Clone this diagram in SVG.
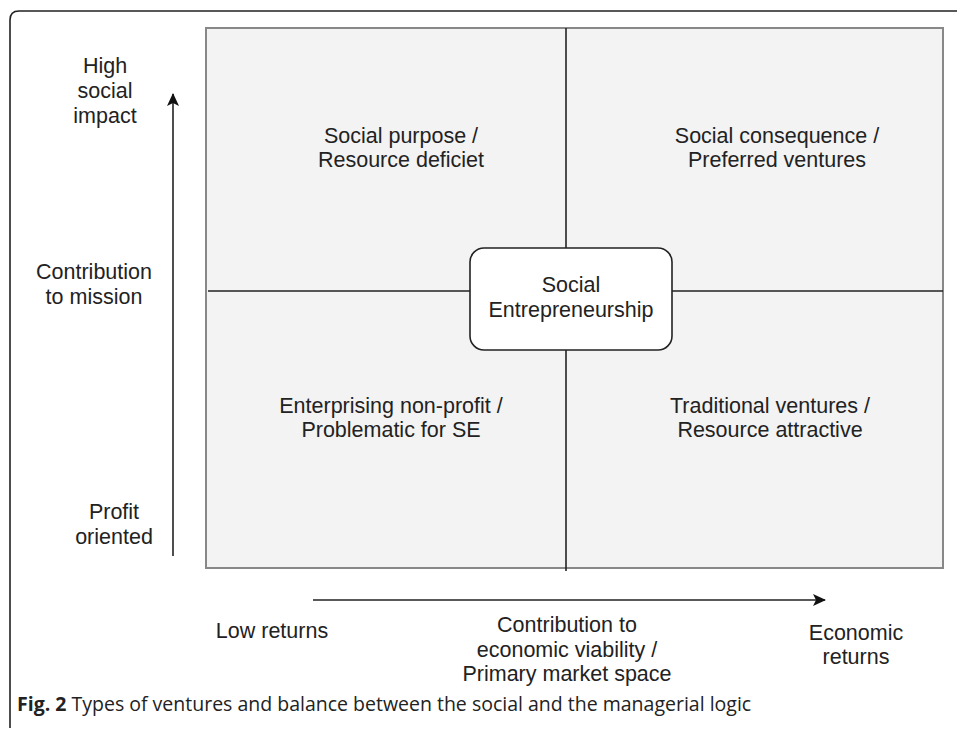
<svg xmlns="http://www.w3.org/2000/svg" width="957" height="730" viewBox="0 0 957 730">
<style>
.t{font-family:"Liberation Sans",Arial,sans-serif;font-size:21.5px;fill:#222;text-anchor:middle}
.ln{stroke:#222;stroke-width:1.6;fill:none}
.cap{font-family:"Open Sans","Noto Sans",sans-serif;font-size:19.5px;fill:#222}
</style>
<defs>
<marker id="ah" markerWidth="14" markerHeight="12" refX="12" refY="6" orient="auto" markerUnits="userSpaceOnUse">
<path d="M0,0 L13,6 L0,12 L3,6 Z" fill="#111"/>
</marker>
</defs>
<rect width="957" height="730" fill="#fff"/>
<path d="M10,728 L10,20 Q10,11 19,11 L957,11" fill="none" stroke="#222" stroke-width="1.6"/>
<g id="quadrant">
<rect x="206" y="28" width="737" height="540" fill="#f3f3f3" stroke="#888" stroke-width="2"/>
</g>
<g id="connectors">
<line class="ln" x1="566" y1="28" x2="566" y2="571"/>
<line class="ln" x1="208" y1="291" x2="943" y2="291"/>
<line class="ln" x1="173" y1="556" x2="173" y2="94" marker-end="url(#ah)"/>
<line class="ln" x1="313" y1="600" x2="825" y2="600" marker-end="url(#ah)"/>
</g>
<g id="center">
<rect x="470" y="248" width="202" height="102" rx="14" fill="#fff" stroke="#222" stroke-width="1.6"/>
<text class="t" x="571" y="292">Social</text>
<text class="t" x="571" y="317">Entrepreneurship</text>
</g>
<g id="q1"><text class="t" x="401" y="143">Social purpose /</text><text class="t" x="401" y="167">Resource deficiet</text></g>
<g id="q2"><text class="t" x="777" y="143">Social consequence /</text><text class="t" x="777" y="167">Preferred ventures</text></g>
<g id="q3"><text class="t" x="391" y="413">Enterprising non-profit /</text><text class="t" x="391" y="437">Problematic for SE</text></g>
<g id="q4"><text class="t" x="770" y="413">Traditional ventures /</text><text class="t" x="770" y="437">Resource attractive</text></g>
<g id="ylabels">
<text class="t" x="105" y="73">High</text><text class="t" x="105" y="98">social</text><text class="t" x="105" y="123">impact</text>
<text class="t" x="94" y="279">Contribution</text><text class="t" x="94" y="304">to mission</text>
<text class="t" x="114" y="519">Profit</text><text class="t" x="114" y="544">oriented</text>
</g>
<g id="xlabels">
<text class="t" x="272" y="638">Low returns</text>
<text class="t" x="567" y="632">Contribution to</text><text class="t" x="567" y="657">economic viability /</text><text class="t" x="567" y="681">Primary market space</text>
<text class="t" x="856" y="640">Economic</text><text class="t" x="856" y="664">returns</text>
</g>
<text class="cap" x="17" y="711"><tspan font-weight="bold">Fig. 2</tspan> Types of ventures and balance between the social and the managerial logic</text>
</svg>
